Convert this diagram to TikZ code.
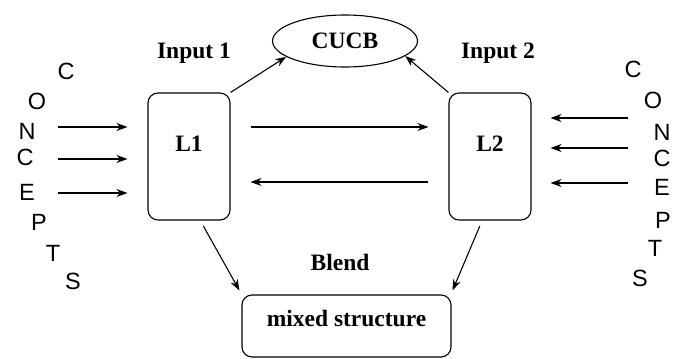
\documentclass[tikz,border=0pt]{standalone}
\usepackage{fontspec}
\setmainfont{Liberation Serif}
\newfontfamily\lettersf{Liberation Sans}
\usetikzlibrary{arrows.meta,shapes.geometric}
\begin{document}
\begin{tikzpicture}[x=1pt,y=-1pt,
  line width=1.1pt,
  arr/.style={-{Stealth[length=11pt,width=8pt,inset=3.5pt]}},
  lbox/.style={draw,rounded corners=10pt,minimum width=82pt,minimum height=127pt,inner sep=0pt},
  title/.style={font=\fontsize{23.5}{26}\selectfont\bfseries,inner sep=0pt},
  letter/.style={font=\lettersf\fontsize{23.5}{26}\selectfont,inner sep=0pt}]
\useasboundingbox (0,0) rectangle (673,359);
\clip (0,0) rectangle (673,359);
% boxes
\node[lbox,label={[title,yshift=12.5pt]center:L1}] (l1) at (189,156.5) {};
\node[lbox,label={[title,yshift=12.5pt]center:L2}] (l2) at (490,156.5) {};
\node[draw,ellipse,minimum width=145pt,minimum height=52pt,inner sep=0pt,title] (cucb) at (345,41) {CUCB};
\node[draw,rounded corners=10pt,minimum width=209pt,minimum height=62pt,inner sep=0pt,
      label={[title,yshift=8pt]center:mixed structure}] (mixed) at (346.5,326) {};
% titles
\node[title] (in1) at (194,53) {Input 1};
\node[title] (in2) at (498,53) {Input 2};
\node[title] (blend) at (340,262) {Blend};
% left letters
\node[letter] (lc1) at (66,71) {C};
\node[letter] (lo) at (37,101) {O};
\node[letter] (ln) at (27,131) {N};
\node[letter] (lc2) at (25,157) {C};
\node[letter] (le) at (27,192) {E};
\node[letter] (lp) at (39,222) {P};
\node[letter] (lt) at (53,253) {T};
\node[letter] (ls) at (73,281) {S};
% right letters
\node[letter] (rc1) at (633,69) {C};
\node[letter] (ro) at (653,100) {O};
\node[letter] (rn) at (662,132) {N};
\node[letter] (rc2) at (662,158) {C};
\node[letter] (re) at (662,187) {E};
\node[letter] (rp) at (663,220) {P};
\node[letter] (rt) at (655,248) {T};
\node[letter] (rs) at (640,278) {S};
% free ends of input arrows
\coordinate (a1) at (58,127);
\coordinate (a2) at (58,159);
\coordinate (a3) at (58,193);
\coordinate (b1) at (628,118);
\coordinate (b2) at (628,148);
\coordinate (b3) at (628,183);
\draw[arr] (a1) -- ([shift={(-20,-29.5)}]l1.west);
\draw[arr] (a2) -- ([shift={(-20,2.5)}]l1.west);
\draw[arr] (a3) -- ([shift={(-20,36.5)}]l1.west);
\draw[arr] (b1) -- ([shift={(19,-38.5)}]l2.east);
\draw[arr] (b2) -- ([shift={(19,-8.5)}]l2.east);
\draw[arr] (b3) -- ([shift={(19,26.5)}]l2.east);
% between L1 and L2
\draw[arr] ([shift={(20,-29.5)}]l1.east) -- ([shift={(-20,-29.5)}]l2.west);
\draw[arr] ([shift={(-20,25.5)}]l2.west) -- ([shift={(20,25.5)}]l1.east);
% to CUCB
\draw[arr] (l1.north east) -- (cucb.195);
\draw[arr] (l2.north west) -- (cucb.-14);
% to blend
\draw[arr,shorten <=6pt] (l1.-80) -- ([shift={(-2,-4)}]mixed.north west);
\draw[arr,shorten <=6pt] (l2.-97) -- ([shift={(1,-4)}]mixed.north east);
\end{tikzpicture}
\end{document}
